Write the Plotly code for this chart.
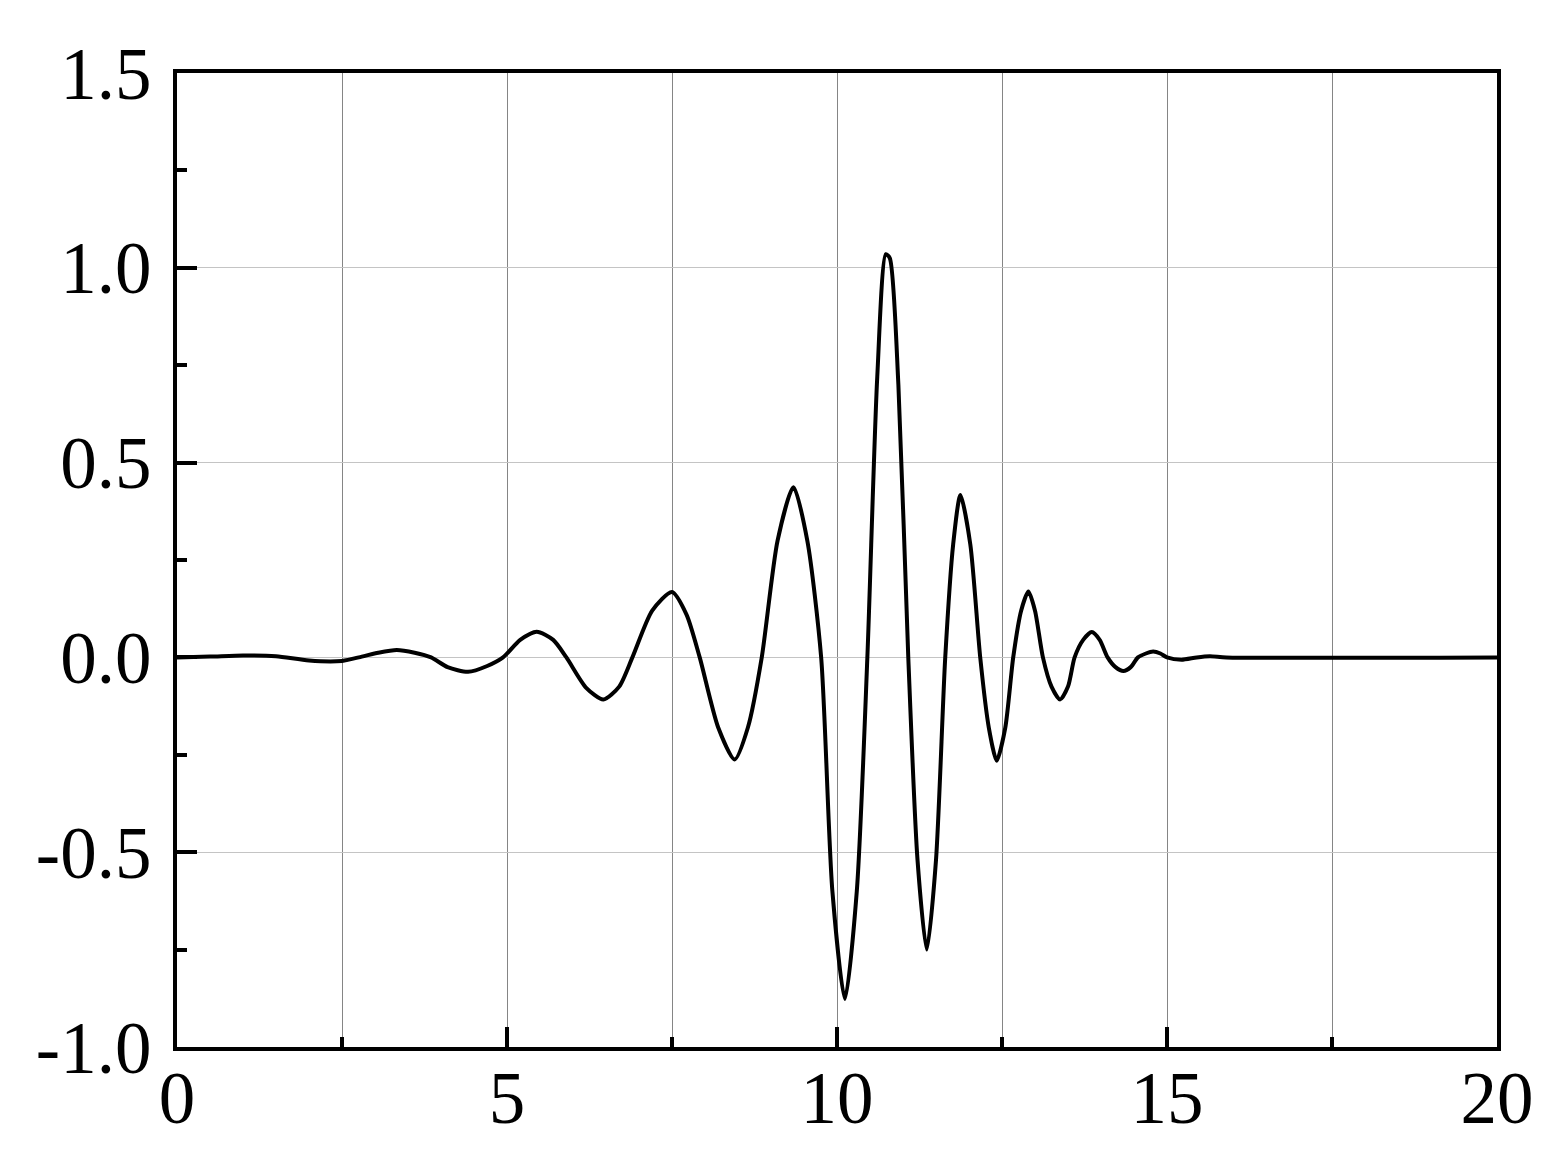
import plotly.graph_objects as go

# Waveform samples
t_values = [0.0, 0.5, 1.0, 1.5, 2.0, 2.5, 2.8, 3.05, 3.33, 3.6, 3.85, 4.1, 4.41, 4.7, 4.94,
            5.2, 5.45, 5.7, 5.9, 6.2, 6.46, 6.7, 6.9, 7.2, 7.5, 7.72, 7.92, 8.2, 8.45, 8.65,
            8.86, 9.1, 9.34, 9.55, 9.76, 9.93, 10.12, 10.3, 10.46, 10.61, 10.74, 10.8, 10.93,
            11.08, 11.22, 11.36, 11.5, 11.64, 11.76, 11.87, 12.02, 12.17, 12.3, 12.42, 12.55,
            12.67, 12.79, 12.9, 13.0, 13.12, 13.25, 13.38, 13.5, 13.6, 13.73, 13.86, 13.98,
            14.1, 14.22, 14.34, 14.45, 14.56, 14.68, 14.79, 14.9, 15.0, 15.22, 15.45, 15.65,
            15.9, 20.0]
amp_values = [0.0, 0.002, 0.005, 0.003, -0.008, -0.009, 0.002, 0.012, 0.019, 0.012, 0.0,
              -0.025, -0.037, -0.022, 0.0, 0.045, 0.066, 0.045, 0.0, -0.078, -0.108, -0.075,
              0.0, 0.12, 0.168, 0.11, 0.0, -0.18, -0.262, -0.18, 0.0, 0.3, 0.437, 0.3, 0.0,
              -0.6, -0.877, -0.6, 0.0, 0.72, 1.035, 1.025, 0.7, 0.0, -0.52, -0.75, -0.52, 0.0,
              0.29, 0.417, 0.29, 0.0, -0.18, -0.265, -0.18, 0.0, 0.12, 0.169, 0.12, 0.0,
              -0.075, -0.108, -0.075, 0.0, 0.045, 0.065, 0.045, 0.0, -0.025, -0.035, -0.025,
              0.0, 0.01, 0.015, 0.01, 0.0, -0.006, 0.0, 0.003, 0.0, 0.0]

x_tick_vals = [0, 5, 10, 15, 20]
x_tick_text = ["0", "5", "10", "15", "20"]
y_tick_vals = [-1.0, -0.5, 0.0, 0.5, 1.0, 1.5]
y_tick_text = ["-1.0", "-0.5", "0.0", "0.5", "1.0", "1.5"]

fig = go.Figure()
fig.add_trace(go.Scatter(x=t_values, y=amp_values, mode="lines",
                         line=dict(color="black", width=4, shape="spline", smoothing=0.7),
                         showlegend=False))

font = dict(family="Liberation Serif, Times New Roman, serif", size=73, color="black")

fig.update_layout(
    width=1566, height=1166,
    margin=dict(l=177, r=69, t=73, b=119),
    paper_bgcolor="white", plot_bgcolor="white",
    font=font,
)
fig.update_xaxes(
    range=[0, 20], tickvals=x_tick_vals, ticktext=x_tick_text, automargin=False,
    ticks="inside", ticklen=20, tickwidth=4, tickcolor="black",
    showline=True, linewidth=4, linecolor="black", mirror=True,
    showgrid=True, gridcolor="#858585", gridwidth=1, zeroline=False,
    minor=dict(dtick=2.5, ticks="inside", ticklen=10, tickwidth=4, tickcolor="black",
               showgrid=True, gridcolor="#858585", gridwidth=1),
    tickfont=font, ticklabelstandoff=-16,
)
fig.update_yaxes(
    range=[-1.0, 1.5], tickvals=y_tick_vals, ticktext=y_tick_text, automargin=False,
    ticks="inside", ticklen=20, tickwidth=4, tickcolor="black",
    showline=True, linewidth=4, linecolor="black", mirror=True,
    showgrid=True, gridcolor="#c4c4c4", gridwidth=1, zeroline=False,
    minor=dict(dtick=0.25, ticks="inside", ticklen=10, tickwidth=4, tickcolor="black",
               showgrid=False),
    tickfont=font, ticklabelstandoff=7,
)

fig.write_html("out.html", config={"displayModeBar": False},
               post_script="document.body.style.margin='0';")
